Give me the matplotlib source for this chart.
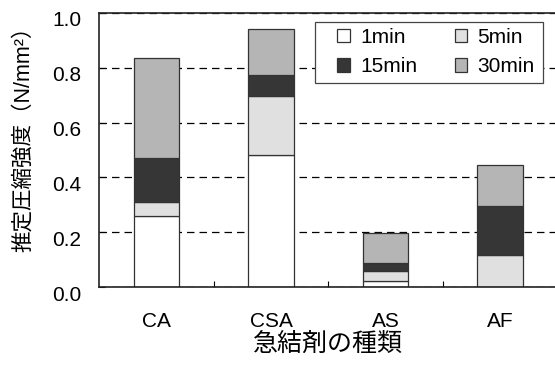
import matplotlib
matplotlib.use("Agg")

import numpy as np
import matplotlib.pyplot as plt
from matplotlib.patches import Rectangle
from matplotlib.transforms import ScaledTranslation

plt.rcParams["font.family"] = ["Liberation Sans", "Noto Sans CJK JP"]

categories = ["CA", "CSA", "AS", "AF"]
series_names = ["1min", "5min", "15min", "30min"]
# increments per time step (stacked -> cumulative strength)
v_1min = [0.26, 0.48, 0.022, 0.0]
v_5min = [0.05, 0.215, 0.038, 0.117]
v_15min = [0.16, 0.08, 0.029, 0.179]
v_30min = [0.365, 0.165, 0.107, 0.149]
yticks = [0.0, 0.2, 0.4, 0.6, 0.8, 1.0]

COLORS = ["#ffffff", "#e0e0e0", "#363636", "#b5b5b5"]

W, H = 555, 374
fig = plt.figure(figsize=(W / 100, H / 100), dpi=100)
ax = fig.add_axes([0.179, 0.2326, 0.825, 0.733])

x = np.arange(len(categories))
bottom = np.zeros(len(categories))
bars = []
for name, vals, col in zip(series_names, [v_1min, v_5min, v_15min, v_30min], COLORS):
    b = ax.bar(x, vals, 0.4, bottom=bottom, color=col, edgecolor="#333333",
               linewidth=0.9, label=name, zorder=2)
    bars.append(b)
    bottom += np.array(vals)

ax.set_xlim(-0.5, 3.5)
ax.set_ylim(0, 1.0)
ax.set_yticks(yticks)
ax.set_yticklabels([f"{t:.1f}" for t in yticks])
ax.set_xticks(x)
ax.set_xticklabels(categories)
ax.set_xticks([0.5, 1.5, 2.5], minor=True)

ax.yaxis.grid(True, color="black", linestyle=(0, (6, 4)), linewidth=0.9)
ax.set_axisbelow(True)

ax.tick_params(axis="x", which="major", length=0, pad=18, labelsize=15)
ax.tick_params(axis="x", which="minor", direction="in", length=4, width=0.8)
ax.tick_params(axis="y", direction="in", length=4, width=0.8, pad=13, labelsize=15)

off = ScaledTranslation(0, -0.06, fig.dpi_scale_trans)
for lab in ax.get_yticklabels():
    lab.set_transform(lab.get_transform() + off)

for s in ax.spines.values():
    s.set_linewidth(1.2)
    s.set_color("#222222")

ax.set_xlabel("急結剤の種類", fontsize=18)
ax.xaxis.label.set_va("center")
ax.xaxis.set_label_coords(0.5, -0.208)

ax.set_ylabel("推定圧縮強度（N/mm²）", fontsize=15.5)
ax.yaxis.label.set_va("center")
ax.yaxis.set_label_coords(-0.1666, 0.56)

# legend frame drawn separately (wider side padding than top/bottom)
frame = Rectangle((315 / W, 1 - 82.7 / H), 228 / W, 61 / H, transform=fig.transFigure,
                  facecolor="white", edgecolor="#444444", linewidth=0.9, zorder=4)
ax.add_patch(frame)
frame.set_clip_on(False)

# row-wise order: 1min 5min / 15min 30min
order = [0, 2, 1, 3]
leg = ax.legend([bars[i] for i in order], [series_names[i] for i in order],
                ncol=2, loc="upper left", bbox_to_anchor=(337 / W, 1 - 28 / H),
                bbox_transform=fig.transFigure, borderaxespad=0, borderpad=0,
                fontsize=15, frameon=False,
                handlelength=0.6, handleheight=0.6, handletextpad=0.5,
                columnspacing=1.8, labelspacing=0.5)
leg.set_zorder(5)

fig.savefig("out.png", dpi=100)
plt.close(fig)
